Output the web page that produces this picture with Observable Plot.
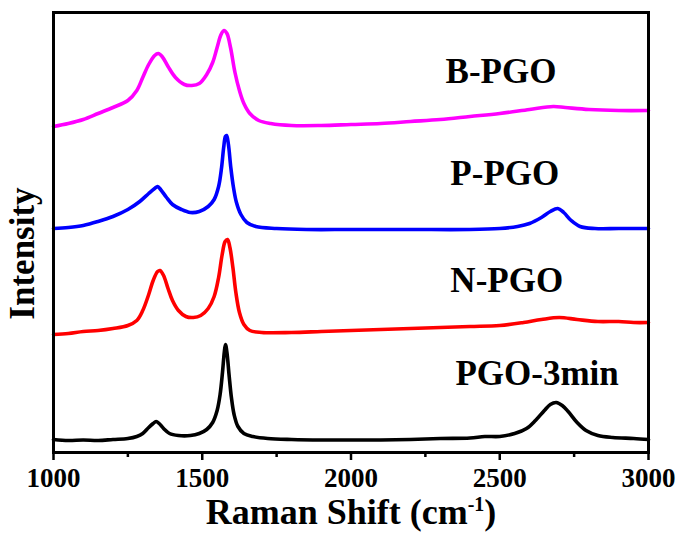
<!DOCTYPE html>
<html>
<head>
<meta charset="utf-8">
<script src="https://cdn.jsdelivr.net/npm/d3@7"></script>
<script src="https://cdn.jsdelivr.net/npm/@observablehq/plot@0.6"></script>
<style>
  html, body { margin: 0; padding: 0; background: #ffffff; }
</style>
</head>
<body>
<div id="chart"></div>
<script>
// ---- Data (Raman shift in cm-1, offset intensity in a.u.) ----
const seriesNames = ["PGO-3min", "N-PGO", "P-PGO", "B-PGO"];
const seriesColors = ["#000000", "#ff0000", "#0000ff", "#ff00ff"];

const pgoShift = [1000,1050,1100,1150,1200,1250,1280,1300,1320,1335,1345,1355,1370,1390,1420,1460,1490,1515,1535,1550,1560,1568,1574,1578,1583,1590,1598,1607,1620,1640,1670,1720,1800,1900,2000,2100,2200,2300,2400,2450,2500,2550,2590,2620,2650,2670,2690,2710,2730,2760,2790,2830,2880,2950,3000];
const pgoInt   = [13,12,12.5,12,13,14,16,19,25,29,31,29,24,19,17,17,19,23,30,42,58,80,100,108,100,78,55,38,26,19,16,14,13,12.5,12.5,12.5,13,14,14.5,16,16,19,24,32,42,48,50,47,41,30,22,17,15,14,13];

const nShift = [1000,1050,1100,1150,1200,1250,1280,1300,1320,1335,1350,1358,1370,1385,1400,1420,1445,1470,1495,1520,1540,1555,1567,1577,1585,1593,1603,1613,1625,1640,1660,1700,1800,1900,2000,2100,2200,2300,2400,2500,2580,2640,2700,2760,2830,2900,2950,3000];
const nInt   = [118,119,121,122,124,127,132,142,158,172,181,182,177,164,152,142,136,135,137,144,156,175,198,211,213,205,185,160,140,128,122,120,120,121,122,123,124,125,126,127,130,133,135,133,131,131,130,130];

const pShift = [1000,1050,1100,1150,1200,1250,1290,1320,1340,1350,1360,1380,1400,1430,1460,1490,1520,1540,1555,1565,1572,1578,1582,1588,1596,1605,1615,1630,1650,1680,1750,1850,2000,2200,2400,2500,2560,2600,2640,2670,2695,2715,2740,2770,2820,2900,3000];
const pInt   = [224,225,227,231,236,243,251,259,264,266,263,255,248,243,240,241,246,253,266,285,305,316,317,308,285,265,250,238,230,226,224,223,223,223,223,224,226,229,235,241,244,240,232,226,224,224,224];

const bShift = [1000,1050,1100,1150,1200,1250,1280,1300,1320,1340,1352,1365,1385,1410,1440,1465,1490,1515,1535,1550,1562,1573,1583,1595,1610,1625,1640,1660,1690,1730,1800,1900,2000,2100,2200,2300,2400,2500,2600,2680,2720,2800,2900,3000];
const bInt   = [326,329,333,339,345,352,362,375,388,397,399,396,386,375,368,367,369,378,390,405,417,422,419,405,380,362,349,339,332,329,327,327,328,329,331,333,336,339,343,346,345,343,342,342];

// Curve labels
const labelNames = ["B-PGO", "P-PGO", "N-PGO", "PGO-3min"];
const labelShift = [2318, 2334, 2334, 2351];
const labelInt   = [381, 279, 172, 79];

// Axis ticks
const majorTicks = [1000, 1500, 2000, 2500, 3000];
const minorTicks = [1250, 1750, 2250, 2750];
const xTitle = "Raman Shift (cm-1)";
const yTitle = "Intensity";

// ---- Build table ----
const shifts = [pgoShift, nShift, pShift, bShift];
const ints = [pgoInt, nInt, pInt, bInt];
const spectra = [];
seriesNames.forEach((name, i) => {
  shifts[i].forEach((s, j) => spectra.push({series: name, shift: s, intensity: ints[i][j]}));
});
const labels = labelNames.map((n, i) => ({name: n, shift: labelShift[i], intensity: labelInt[i]}));

const serif = "'Liberation Serif', 'Times New Roman', serif";

const chart = Plot.plot({
  width: 685,
  height: 540,
  marginLeft: 53,
  marginRight: 37,
  marginTop: 12,
  marginBottom: 88,
  style: {fontFamily: serif, background: "#ffffff", color: "#000000"},
  x: {domain: [1000, 3000], axis: null},
  y: {domain: [0, 440], axis: null},
  color: {domain: seriesNames, range: seriesColors},
  marks: [
    Plot.line(spectra, {x: "shift", y: "intensity", z: "series", stroke: "series", strokeWidth: 3.6, curve: "catmull-rom"}),
    Plot.text(labels, {x: "shift", y: "intensity", text: "name", textAnchor: "start", lineAnchor: "middle", fontSize: 35, fontWeight: "bold", fontFamily: serif, fill: "#000000"}),
    Plot.frame({stroke: "#000000", strokeWidth: 3}),
    Plot.axisX({ticks: majorTicks, tickSize: 8, tickPadding: 7, strokeWidth: 2.5, fontSize: 27, fontWeight: "bold", fontFamily: serif, tickFormat: d => String(d), label: null}),
    Plot.axisX({ticks: minorTicks, tickSize: 5, strokeWidth: 2.5, tickFormat: () => "", label: null}),
    Plot.text([xTitle], {frameAnchor: "bottom", textAnchor: "middle", dy: 60, lineAnchor: "middle", fontSize: 36, fontWeight: "bold", fontFamily: serif, fill: "#000000"}),
    Plot.text([yTitle], {frameAnchor: "left", textAnchor: "middle", rotate: -90, dx: -31, dy: 21, lineAnchor: "middle", fontSize: 35, fontWeight: "bold", fontFamily: serif, fill: "#000000"})
  ]
});

// superscript for cm-1
d3.select(chart).selectAll("text").each(function() {
  if (this.textContent === xTitle) {
    const t = d3.select(this);
    t.text(null);
    t.append("tspan").text("Raman Shift (cm");
    t.append("tspan").attr("font-size", 20).attr("dy", -13).text("-1");
    t.append("tspan").attr("dy", 13).text(")");
  }
});

document.getElementById("chart").appendChild(chart);
</script>
</body>
</html>
